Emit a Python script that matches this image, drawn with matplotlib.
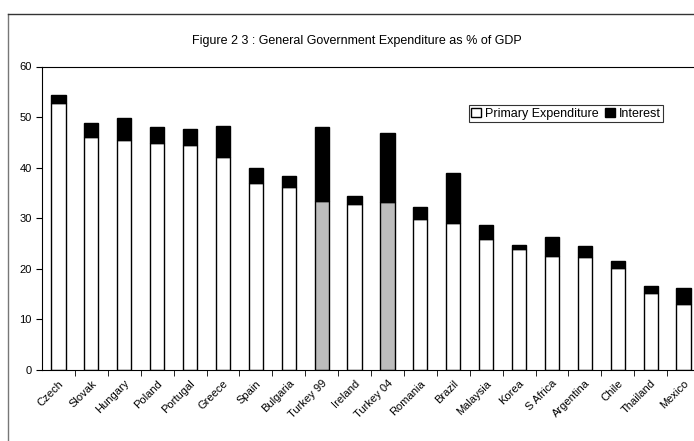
import numpy as np
import matplotlib
matplotlib.use("Agg")
from matplotlib import pyplot as plt
from matplotlib.lines import Line2D

plt.rcParams['font.family'] = ['Liberation Sans', 'DejaVu Sans']

# Data
countries = ["Czech", "Slovak", "Hungary", "Poland", "Portugal", "Greece", "Spain",
             "Bulgaria", "Turkey 99", "Ireland", "Turkey 04", "Romania", "Brazil",
             "Malaysia", "Korea", "S Africa", "Argentina", "Chile", "Thailand", "Mexico"]
primary = [52.8, 46.0, 45.5, 44.8, 44.5, 42.2, 36.9, 36.1, 33.4, 32.8, 33.3, 29.9,
           29.1, 25.8, 23.9, 22.5, 22.4, 20.1, 15.2, 13.1]
total = [54.3, 48.8, 49.8, 48.1, 47.6, 48.3, 39.9, 38.4, 48.1, 34.3, 46.8, 32.3,
         39.0, 28.7, 24.7, 26.2, 24.5, 21.6, 16.6, 16.2]
interest = [t - p for t, p in zip(total, primary)]

x = np.arange(len(countries))
prim_colors = ['#bcbcbc' if c.startswith("Turkey") else 'white' for c in countries]

fig = plt.figure(figsize=(6.94, 4.41), dpi=100)
ax = fig.add_axes([42/694, 1 - 370/441, 658/694, 303.5/441])

ax.bar(x, primary, width=0.43, color=prim_colors, edgecolor='black', linewidth=1.0,
       label="Primary Expenditure")
ax.bar(x, interest, width=0.43, bottom=primary, color='black', edgecolor='black',
       linewidth=1.0, label="Interest")

ax.set_xlim(-0.5, len(countries) - 0.5)
ax.set_ylim(0, 60)
ax.set_yticks(range(0, 61, 10))
ax.tick_params(axis='y', labelsize=8, direction='out', length=4)

ax.set_xticks(x)
ax.set_xticklabels(countries, rotation=45, ha='right', rotation_mode='anchor', fontsize=8)
ax.tick_params(axis='x', which='major', length=0, pad=6)
ax.set_xticks(x[:-1] + 0.5, minor=True)
ax.tick_params(axis='x', which='minor', direction='out', length=4)

ax.spines['right'].set_visible(False)

leg = ax.legend(loc='upper right', bbox_to_anchor=(0.944, 0.873), ncol=2, fontsize=9,
                frameon=True, fancybox=False, edgecolor='black', borderaxespad=0,
                handlelength=0.8, handleheight=0.8, handletextpad=0.3,
                columnspacing=0.5, borderpad=0.2)
leg.get_frame().set_linewidth(0.8)
leg.legend_handles[0].set_facecolor('white')

fig.text(357/694, 1 - 41/441, "Figure 2 3 : General Government Expenditure as % of GDP",
         ha='center', va='center', fontsize=9)

# outer frame of the exhibit
fig.add_artist(Line2D([8/694, 8/694], [0, 1 - 14/441], color='#777777', lw=1.0))
fig.add_artist(Line2D([8/694, 1], [1 - 14/441, 1 - 14/441], color='#333333', lw=1.0))

fig.savefig("out.png", dpi=100)
